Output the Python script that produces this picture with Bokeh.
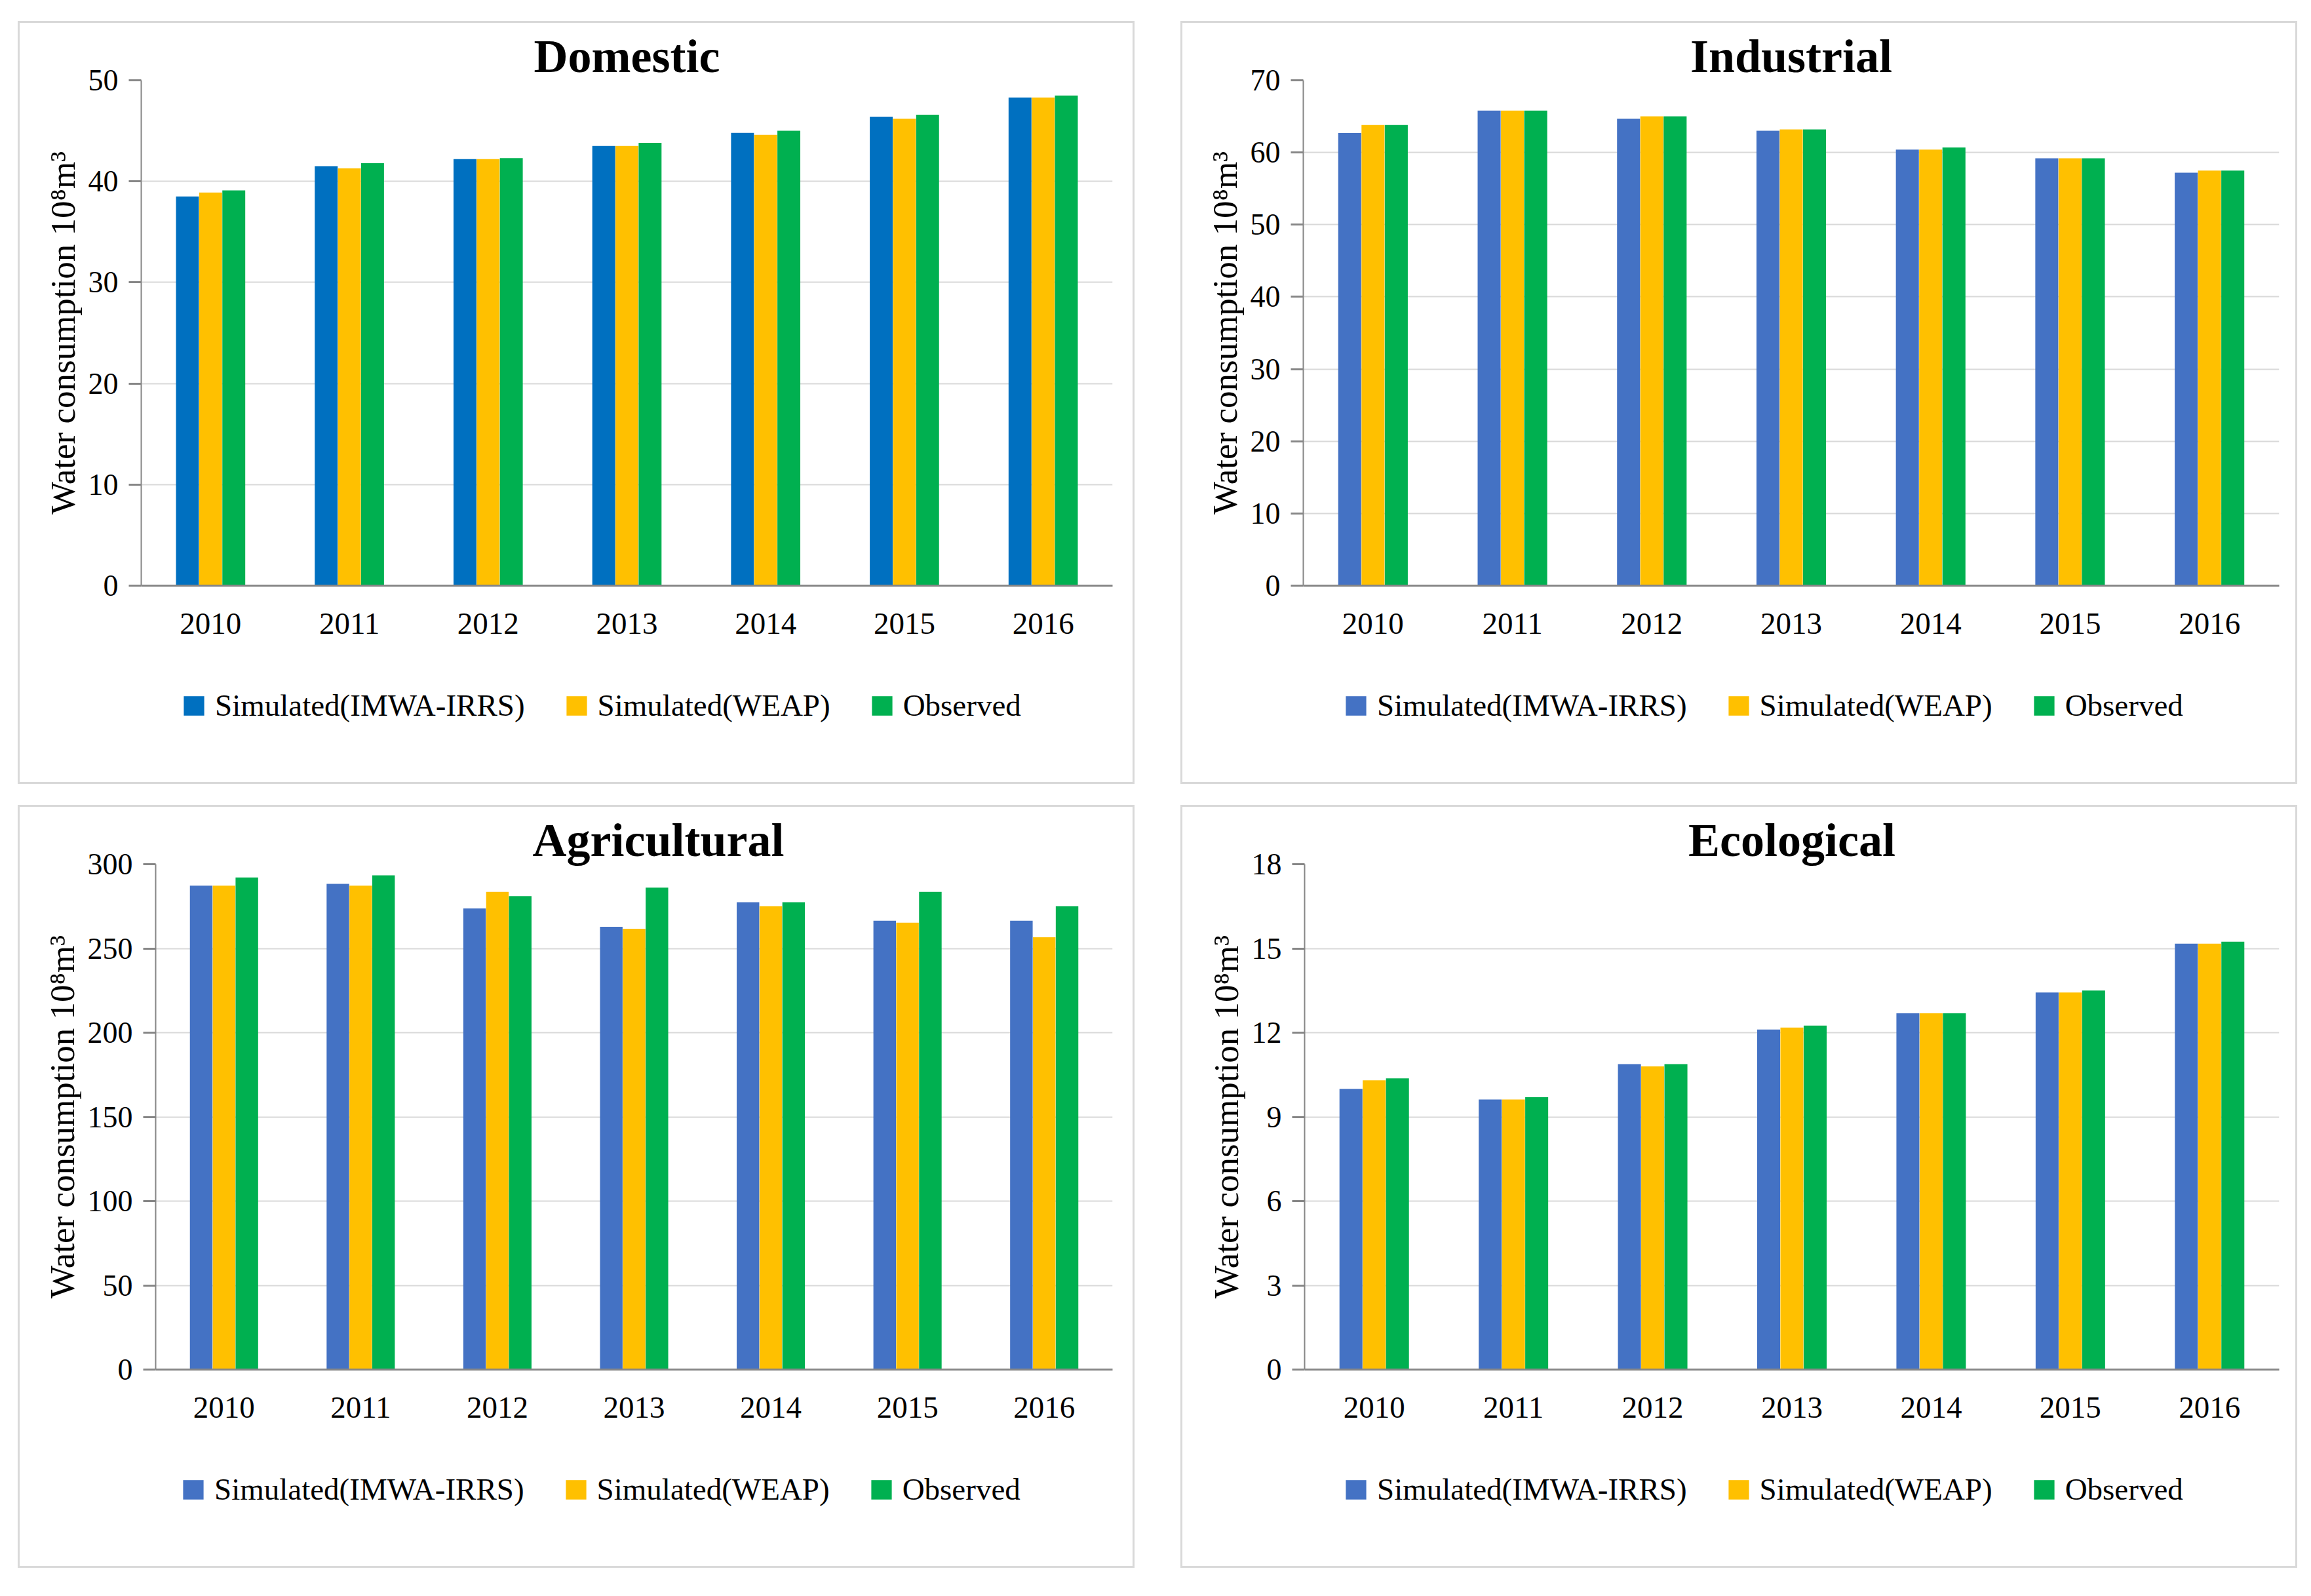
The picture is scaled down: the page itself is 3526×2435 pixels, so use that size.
from bokeh.plotting import figure
from bokeh.models import ColumnDataSource, FactorRange, Range1d, FixedTicker, Legend, LegendItem
from bokeh.transform import dodge
from bokeh.layouts import row, column
from bokeh.embed import file_html
from bokeh.resources import INLINE

# ---------------- data ----------------
years = ["2010", "2011", "2012", "2013", "2014", "2015", "2016"]
series_names = ["Simulated(IMWA-IRRS)", "Simulated(WEAP)", "Observed"]

domestic_imwa = [38.5, 41.5, 42.2, 43.5, 44.8, 46.4, 48.3]
domestic_weap = [38.9, 41.3, 42.2, 43.5, 44.6, 46.2, 48.3]
domestic_obs = [39.1, 41.8, 42.3, 43.8, 45.0, 46.6, 48.5]
domestic_ticks = [0, 10, 20, 30, 40, 50]

industrial_imwa = [62.7, 65.8, 64.7, 63.0, 60.4, 59.2, 57.2]
industrial_weap = [63.8, 65.8, 65.0, 63.2, 60.4, 59.2, 57.5]
industrial_obs = [63.8, 65.8, 65.0, 63.2, 60.7, 59.2, 57.5]
industrial_ticks = [0, 10, 20, 30, 40, 50, 60, 70]

agri_imwa = [287.3, 288.3, 273.7, 262.8, 277.4, 266.4, 266.4]
agri_weap = [287.3, 287.3, 283.6, 261.7, 275.1, 265.3, 256.6]
agri_obs = [292.1, 293.4, 281.0, 286.1, 277.4, 283.6, 275.1]
agri_ticks = [0, 50, 100, 150, 200, 250, 300]

eco_imwa = [10.0, 9.62, 10.88, 12.11, 12.69, 13.43, 15.17]
eco_weap = [10.3, 9.62, 10.8, 12.18, 12.69, 13.43, 15.17]
eco_obs = [10.37, 9.7, 10.88, 12.25, 12.69, 13.5, 15.24]
eco_ticks = [0, 3, 6, 9, 12, 15, 18]

FONT = "Liberation Serif"
YELLOW = "#FFC000"
GREEN = "#00B050"
AXIS = "#868686"
PANEL_W = 1698
CHART_H = 968
LEGEND_H = 190


def add_bars(fig, src, blue, visible=True):
    w = 0.165
    r1 = fig.vbar(x=dodge("year", -0.167, range=fig.x_range), top="imwa", width=w,
                  source=src, fill_color=blue, line_color=None, visible=visible)
    r2 = fig.vbar(x=dodge("year", 0.0, range=fig.x_range), top="weap", width=w,
                  source=src, fill_color=YELLOW, line_color=None, visible=visible)
    r3 = fig.vbar(x=dodge("year", 0.167, range=fig.x_range), top="obs", width=w,
                  source=src, fill_color=GREEN, line_color=None, visible=visible)
    return r1, r2, r3


def make_panel(title, imwa, weap, obs, ticks, blue, mb_left, mb_right, legend_x,
               title_align="center", title_offset=0):
    src = ColumnDataSource(dict(year=years, imwa=imwa, weap=weap, obs=obs))
    p = figure(width=PANEL_W, height=CHART_H,
               x_range=FactorRange(factors=years, range_padding=0),
               y_range=Range1d(ticks[0], ticks[-1]),
               output_backend="svg", toolbar_location=None,
               min_border_left=mb_left, min_border_right=mb_right,
               min_border_top=87, min_border_bottom=110)
    add_bars(p, src, blue)

    p.title.text = title
    p.title.align = title_align
    p.title.offset = title_offset
    p.title.text_font = FONT
    p.title.text_font_size = "72px"
    p.title.text_font_style = "bold"
    p.title.text_color = "black"
    p.title.standoff = -6

    p.outline_line_color = None
    p.background_fill_color = "white"
    p.border_fill_color = "white"

    p.xgrid.grid_line_color = None
    p.ygrid.grid_line_color = "#d9d9d9"
    p.ygrid.grid_line_width = 2

    xa = p.xaxis[0]
    xa.axis_line_color = AXIS
    xa.axis_line_width = 3
    xa.major_tick_line_color = None
    xa.minor_tick_line_color = None
    xa.major_label_text_font = FONT
    xa.major_label_text_font_size = "47px"
    xa.major_label_text_color = "black"
    xa.major_label_standoff = 36

    ya = p.yaxis[0]
    ya.ticker = FixedTicker(ticks=ticks)
    ya.axis_line_color = AXIS
    ya.axis_line_width = 2
    ya.major_tick_line_color = AXIS
    ya.major_tick_line_width = 3
    ya.major_tick_out = 19
    ya.major_tick_in = 0
    ya.minor_tick_line_color = None
    ya.major_label_text_font = FONT
    ya.major_label_text_font_size = "46px"
    ya.major_label_text_color = "black"
    ya.major_label_standoff = 16
    ya.axis_label = "Water consumption 10\u2078m\u00b3"
    ya.axis_label_text_font = FONT
    ya.axis_label_text_font_size = "53px"
    ya.axis_label_text_font_style = "normal"
    ya.axis_label_text_color = "black"
    ya.axis_label_standoff = 7

    # legend strip below the chart (same bordered panel); its renderers are
    # hidden copies of the chart's bars so the legend swatches get their colours
    lg = figure(width=PANEL_W, height=LEGEND_H, output_backend="svg",
                toolbar_location=None, min_border=0,
                x_range=p.x_range, y_range=p.y_range)
    lg.axis.visible = False
    lg.grid.grid_line_color = None
    lg.outline_line_color = None
    lg.background_fill_color = "white"
    lg.border_fill_color = "white"
    k1, k2, k3 = add_bars(lg, src, blue, visible=False)
    legend = Legend(
        items=[LegendItem(label=series_names[0], renderers=[k1]),
               LegendItem(label=series_names[1], renderers=[k2]),
               LegendItem(label=series_names[2], renderers=[k3])],
        orientation="horizontal", location=(legend_x - 4, 90),
        glyph_width=39, glyph_height=37, label_standoff=13, spacing=59,
        padding=0, margin=0, border_line_color=None,
        background_fill_alpha=0, click_policy="none",
        inactive_fill_alpha=0,
        label_text_font=FONT, label_text_font_size="47px",
        label_text_color="black")
    lg.add_layout(legend)

    return column(p, lg, spacing=0,
                  styles={"outline": "3px solid #d9d9d9"})


p1 = make_panel("Domestic", domestic_imwa, domestic_weap, domestic_obs,
                domestic_ticks, "#0070C0", 185, 31, 65)
p2 = make_panel("Industrial", industrial_imwa, industrial_weap, industrial_obs,
                industrial_ticks, "#4472C4", 184, 25, 65)
p3 = make_panel("Agricultural", agri_imwa, agri_weap, agri_obs,
                agri_ticks, "#4472C4", 207, 31, 42,
                title_align="left", title_offset=575)
p4 = make_panel("Ecological", eco_imwa, eco_weap, eco_obs,
                eco_ticks, "#4472C4", 186, 25, 63)

top = row(p1, p2, spacing=76)
bot = row(p3, p4, spacing=76)
lay = column(top, bot, spacing=38, margin=(35, 0, 0, 30))

open("out.html", "w").write(file_html(lay, INLINE))
